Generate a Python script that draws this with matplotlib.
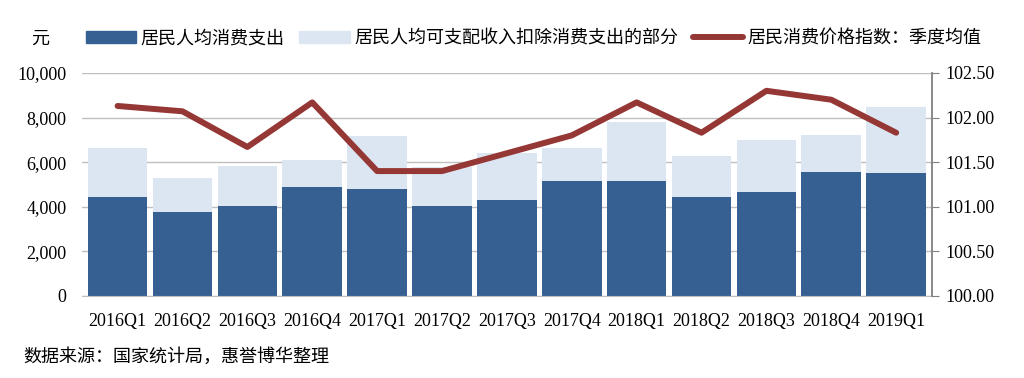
import matplotlib
matplotlib.use('Agg')
import matplotlib.pyplot as plt
from matplotlib.patches import Patch
from matplotlib.lines import Line2D
from matplotlib.ticker import FuncFormatter
import numpy as np

plt.rcParams['font.family'] = ['Liberation Serif', 'Noto Sans CJK SC']

quarters = ['2016Q1', '2016Q2', '2016Q3', '2016Q4', '2017Q1', '2017Q2', '2017Q3',
            '2017Q4', '2018Q1', '2018Q2', '2018Q3', '2018Q4', '2019Q1']
# per-capita consumption spending (yuan)
spending = [4450, 3750, 4040, 4870, 4810, 4050, 4300, 5160, 5160, 4450, 4660, 5570, 5530]
# per-capita disposable income (yuan)
income = [6640, 5290, 5840, 6100, 7170, 5800, 6430, 6650, 7820, 6260, 7000, 7200, 8490]
# CPI, quarterly mean
cpi = [102.13, 102.07, 101.67, 102.17, 101.40, 101.40, 101.60, 101.80, 102.17,
       101.83, 102.30, 102.20, 101.83]

dark = '#376092'
light = '#DCE6F2'
red = '#953735'
grey = '#BFBFBF'

fig = plt.figure(figsize=(10.24, 3.78), dpi=100)
ax = fig.add_axes([0.080, 0.217, 0.830, 0.590])
ax2 = ax.twinx()

x = np.arange(len(quarters))
remain = np.array(income) - np.array(spending)
ax.bar(x, spending, width=0.92, color=dark, zorder=2)
ax.bar(x, remain, bottom=spending, width=0.92, color=light, zorder=2)

ax.set_ylim(0, 10000)
ax.set_yticks(range(0, 10001, 2000))
ax.yaxis.set_major_formatter(FuncFormatter(lambda v, p: f'{int(v):,}'))
ax.set_xlim(-0.55, len(quarters) - 0.45)
ax.set_xticks(x)
ax.set_xticklabels(quarters)
ax.grid(axis='y', color=grey, linewidth=1, zorder=0)
ax.set_axisbelow(True)
ax.tick_params(axis='y', length=0, pad=11, labelsize=13)
ax.tick_params(axis='x', length=0, pad=12, labelsize=13)
for s in ['top', 'left', 'right']:
    ax.spines[s].set_visible(False)
ax.spines['bottom'].set_color(grey)

ax2.plot(x, cpi, color=red, linewidth=4.3, solid_capstyle='round', zorder=3)
ax2.set_ylim(100, 102.5)
ax2.set_yticks(np.arange(100, 102.51, 0.5))
ax2.yaxis.set_major_formatter(FuncFormatter(lambda v, p: f'{v:.2f}'))
ax2.tick_params(axis='y', length=5, color='#808080', pad=5, labelsize=13, direction='out')
for s in ['top', 'left', 'bottom']:
    ax2.spines[s].set_visible(False)
ax2.spines['right'].set_color('#808080')
ax2.spines['right'].set_linewidth(1.3)

handles = [Patch(color=dark), Patch(color=light),
           Line2D([0], [0], color=red, linewidth=4.3, solid_capstyle='round')]
labels = ['居民人均消费支出', '居民人均可支配收入扣除消费支出的部分', '居民消费价格指数：季度均值']
fig.legend(handles, labels, loc='center left', bbox_to_anchor=(0.075, 0.897), ncol=3,
           frameon=False, fontsize=13, handlelength=2.8, handleheight=0.6,
           handletextpad=0.25, columnspacing=0.8, borderpad=0)

fig.text(0.030, 0.897, '元', fontsize=13, va='center')
fig.text(0.023, 0.055, '数据来源：国家统计局，惠誉博华整理', fontsize=13, va='center')

fig.savefig('out.png', dpi=100)
